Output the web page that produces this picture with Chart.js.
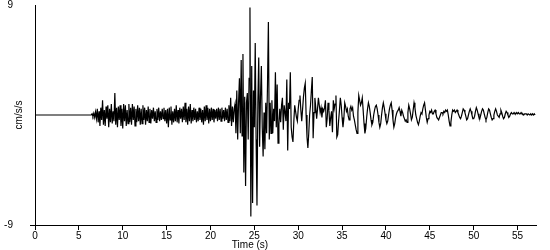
<!DOCTYPE html>
<html>
<head>
<meta charset="utf-8">
<script src="https://cdn.jsdelivr.net/npm/chart.js@4/dist/chart.umd.min.js"></script>
<style>
  html, body { margin: 0; padding: 0; background: #fff; }
  #wrap { width: 550px; height: 250px; }
</style>
</head>
<body>
<div id="wrap"><canvas id="chart"></canvas></div>
<script>
// trace is flat (0) before startTime, then one sample every sampleStep seconds
const startTime = 6.0;
const sampleStep = 0.1;
const accel = [
    0, 0, 0, 0, 0, 0.1, -0.1, 0.15, -0.2, 0.25,                 // 6 s
    -0.3, 0.5, -0.6, 0.3, -0.9, 0.6, -0.4, 1.2, -0.8, 0.4,      // 7
    -0.9, 0.7, -0.3, 0.8, -1.0, 0.5, -0.6, 0.9, -0.7, 0.3,      // 8
    -0.5, 1.8, -0.8, 0.6, -1.0, 0.7, -0.4, 0.8, -0.9, 0.5,      // 9
    -1.1, 0.9, -0.5, 0.8, -0.9, 0.4, -0.7, 0.9, -0.6, 0.6,      // 10
    -0.8, 0.9, -0.4, 0.7, -0.9, 0.5, -0.6, 0.8, -0.5, 0.6,      // 11
    -0.8, 0.5, -0.7, 0.8, -0.4, 0.6, -0.8, 0.4, -0.5, 0.7,      // 12
    -0.6, 0.5, -0.7, 0.4, -0.3, 0.6, -0.5, 0.3, -0.6, 0.5,      // 13
    -0.4, 0.6, -0.5, 0.3, -0.4, 0.5, -0.3, 0.6, -0.5, 0.4,      // 14
    -0.7, 0.5, -1.0, 0.6, -0.4, 0.7, -0.8, 0.3, -0.6, 0.5,      // 15
    -0.5, 0.8, -0.6, 0.4, -0.7, 0.6, -0.3, 0.5, -0.6, 0.7,      // 16
    -0.4, 1.0, -0.6, 0.5, -0.8, 0.7, -0.5, 0.9, -0.7, 0.4,      // 17
    -0.5, 0.6, -0.4, 0.5, -0.6, 0.3, -0.5, 0.6, -0.4, 0.5,      // 18
    -0.6, 0.4, -0.8, 0.7, -0.5, 0.8, -0.4, 0.6, -0.7, 0.5,      // 19
    -0.5, 0.6, -0.4, 0.5, -0.6, 0.4, -0.3, 0.5, -0.5, 0.6,      // 20
    -0.4, 0.5, -0.5, 0.6, -0.3, 0.4, -0.5, 0.6, -0.4, 0.5,      // 21
    -0.6, 0.8, -0.5, 1.4, -0.9, 0.7, -0.6, 0.5, 0.9, -1.5,      // 22
    2.0, -2.0, 1.0, 3.0, -1.5, 4.5, -1.7, 5.0, -4.7, 1.5,       // 23
    -5.8, 1.0, 1.8, -2.0, 3.0, 8.8, -8.3, 4.0, -7.2, 2.0,       // 24
    -1.0, 5.9, -2.0, -7.4, 1.0, 4.7, -2.6, 1.5, 4.0, -1.0,      // 25
    -3.4, 0.2, -2.8, 1.0, -1.5, 2.5, 7.6, -2.0, 1.0, -1.5,      // 26
    1.2, -1.5, 0.5, -0.5, 3.5, -1.0, 2.5, -2.3, -0.8, 0.5,      // 27
    -0.6, 0.8, 1.4, -1.2, 0.8, 0.2, -0.5, 2.9, -2.9, 1.0,       // 28
    0.5, 3.5, -1.0, -1.8, -2.2, -0.5, 0.8, 0.3, -0.2, -0.5,     // 29
    0.5, 1.2, 1.6, 0.4, -0.5, 0.5, 1.5, 2.2, 2.6, 0.0,          // 30
    -1.8, -2.7, -1.5, 0.0, 0.8, 2.0, 3.1, -1.9, 0.2, 1.4,       // 31
    0.6, -0.3, 0.5, 1.4, 0.8, 0.2, 0.6, -0.2, 0.5, 0.3,         // 32
    0.6, 1.2, -1.0, -0.3, 1.0, 0.4, -0.9, -0.2, 0.3, -1.4,      // 33
    1.2, 0.5, 0.9, 1.6, -1.8, -1.6, -0.5, 0.4, 1.4, 0.8,        // 34
    -0.2, -1.0, -0.3, 1.0, 0.7, 0.3, 0.5, -0.1, -0.4, 0.5,      // 35
    0.7, 0.4, 0.6, -0.1, -0.4, -0.8, -1.2, -1.5, 0.2, 1.6,      // 36
    1.2, 0.8, 1.0, 1.4, 0.4, -0.7, -1.5, -1.1, -0.2, 0.5,       // 37
    1.0, 0.7, 0.2, -0.4, -0.8, -0.6, 0.0, 0.4, 0.7, 0.8,        // 38
    0.5, 0.0, -0.6, -1.0, -0.7, 0.0, 0.6, 1.0, 0.6, 0.1,        // 39
    -0.4, -0.7, -0.5, 0.0, 0.5, 0.8, 1.0, 0.4, -0.4, -1.0,      // 40
    -0.7, -0.2, 0.1, 0.3, 0.4, 0.6, 0.3, -0.1, 0.4, 0.2,        // 41
    -0.1, -0.3, -0.5, -0.4, -0.6, 0.2, 0.8, 0.5, 0.1, -0.4,     // 42
    -0.2, 0.4, 1.0, 0.6, 0.0, -0.3, -0.6, -0.8, -0.5, -0.1,     // 43
    0.2, 0.1, 0.5, 0.8, 1.0, 0.4, -0.2, -0.6, -0.3, 0.0,        // 44
    0.3, 0.2, 0.4, 0.1, 0.1, 0.3, 0.4, 0.1, -0.2, -0.3,         // 45
    -0.4, -0.2, 0.0, 0.2, 0.2, 0.1, 0.3, 0.2, 0.4, 0.3,         // 46
    0.4, 0.0, -0.5, -0.9, -0.6, 0.0, 0.4, 0.3, 0.4, 0.2,        // 47
    0.3, 0.4, 0.2, 0.0, -0.2, -0.3, -0.1, 0.2, 0.5, 0.4,        // 48
    0.2, -0.1, -0.4, -0.3, 0.0, 0.3, 0.5, 0.3, 0.0, -0.3,       // 49
    -0.3, -0.1, 0.3, 0.6, 0.4, 0.1, -0.2, -0.3, 0.0, 0.3,       // 50
    0.5, 0.4, 0.1, -0.2, -0.4, -0.2, 0.2, 0.5, 0.4, 0.1,        // 51
    -0.2, -0.4, -0.3, 0.0, 0.3, 0.5, 0.3, 0.0, -0.1, -0.2,      // 52
    0.1, 0.4, 0.2, -0.1, -0.3, -0.2, 0.1, 0.3, 0.2, 0.0,        // 53
    -0.2, -0.1, 0.1, 0.2, 0.1, 0.1, 0.2, 0.1, 0.1, 0.2,         // 54
    0.1, 0.2, 0.1, 0.1, 0.2, 0.1, 0.1, 0.0, 0.1, 0.1,           // 55
    0.1, 0.0, 0.1, 0.1, 0.0, 0.1, 0.0, 0.1, 0.0, 0.1,           // 56
    0.0                                                         // 57
];

const xTickValues = [0, 5, 10, 15, 20, 25, 30, 35, 40, 45, 50, 55];
const yTickValues = [-9, 9];
const xMax = 57.1;

const points = [{ x: 0, y: 0 }];
accel.forEach((v, i) => {
    points.push({ x: +(startTime + i * sampleStep).toFixed(2), y: v });
});

const fontFamily = "'Liberation Sans', Arial, sans-serif";

// the two axis captions sit where the original put them, not centred on the axes
const captions = {
    id: 'captions',
    afterDraw(chart) {
        const ctx = chart.ctx;
        ctx.save();
        ctx.fillStyle = '#000';
        ctx.font = '10px ' + fontFamily;
        ctx.textAlign = 'center';
        ctx.textBaseline = 'alphabetic';
        ctx.fillText('Time (s)', 250, 248);
        ctx.translate(19, 115);
        ctx.rotate(-Math.PI / 2);
        ctx.textBaseline = 'middle';
        ctx.fillText('cm/s/s', 0, 0);
        ctx.restore();
    }
};

new Chart(document.getElementById('chart'), {
    type: 'line',
    data: {
        datasets: [{
            data: points,
            borderColor: '#000',
            borderWidth: 1.2,
            pointRadius: 0,
            tension: 0,
            fill: false
        }]
    },
    options: {
        responsive: true,
        maintainAspectRatio: false,
        animation: false,
        layout: { padding: { top: 5, right: 14, bottom: 0, left: 0 } },
        plugins: {
            legend: { display: false },
            tooltip: { enabled: false }
        },
        scales: {
            x: {
                type: 'linear',
                min: 0,
                max: xMax,
                afterBuildTicks: (scale) => { scale.ticks = xTickValues.map(v => ({ value: v })); },
                afterFit: (scale) => { scale.height = 25; },
                grid: { display: true, drawOnChartArea: false, drawTicks: true, tickLength: 5, color: '#000' },
                border: { display: true, color: '#000', width: 1 },
                ticks: {
                    color: '#000',
                    padding: 0,
                    maxRotation: 0,
                    autoSkip: false,
                    font: { family: fontFamily, size: 10 }
                }
            },
            y: {
                min: -9,
                max: 9,
                afterBuildTicks: (scale) => { scale.ticks = yTickValues.map(v => ({ value: v })); },
                afterFit: (scale) => {
                    // big label padding would otherwise push the plot down
                    scale.width = 35;
                    scale.paddingTop = 0;
                    scale.paddingBottom = 0;
                },
                grid: {
                    display: true,
                    drawOnChartArea: false,
                    drawTicks: true,
                    tickLength: 5,
                    color: (ctx) => (ctx.tick && ctx.tick.value === -9 ? '#000' : 'rgba(0,0,0,0)')
                },
                border: { display: true, color: '#000', width: 1 },
                ticks: {
                    color: '#000',
                    padding: 17,
                    font: { family: fontFamily, size: 10 }
                }
            }
        }
    },
    plugins: [captions]
});
</script>
</body>
</html>
